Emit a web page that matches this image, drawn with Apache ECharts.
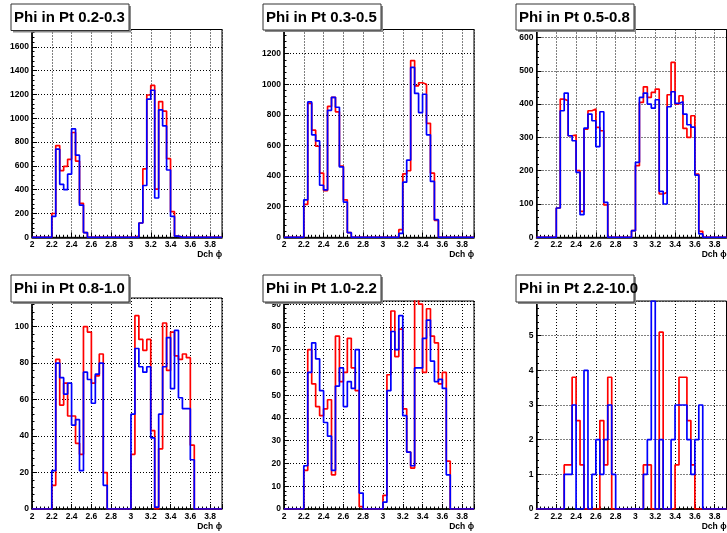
<!DOCTYPE html>
<html>
<head>
<meta charset="utf-8">
<script src="https://cdn.jsdelivr.net/npm/echarts@6/dist/echarts.min.js"></script>
<style>
html, body { margin: 0; padding: 0; background: #fff; }
#chart { width: 727px; height: 533px; }
</style>
</head>
<body>
<div id="chart"></div>
<script>
// Histogram binning of Dch phi: 48 bins of width 0.04 starting at 2.0
const BIN_LO = 2.0;
const BIN_W = 0.04;
const N_BINS = 48;

const panelTitles = [
  'Phi in Pt 0.2-0.3', 'Phi in Pt 0.3-0.5', 'Phi in Pt 0.5-0.8',
  'Phi in Pt 0.8-1.0', 'Phi in Pt 1.0-2.2', 'Phi in Pt 2.2-10.0'
];

// Bin contents, 5 bins per row (2.0-2.2, 2.2-2.4, ... , 3.8-3.92)
const red1 = [
  0, 0, 0, 0, 0,
  200, 770, 560, 595, 655,
  880, 640, 285, 40, 0,
  0, 0, 0, 0, 0,
  0, 0, 0, 0, 0,
  0, 10, 120, 575, 1195,
  1275, 405, 1140, 1060, 660,
  215, 10, 0, 0, 0,
  0, 0, 0, 0, 0,
  0, 0, 0];
const blue1 = [
  0, 0, 0, 0, 0,
  175, 740, 445, 400, 530,
  910, 690, 270, 40, 0,
  0, 0, 0, 0, 0,
  0, 0, 0, 0, 0,
  0, 0, 120, 435, 1160,
  1235, 330, 1070, 935, 565,
  175, 10, 0, 0, 0,
  0, 0, 0, 0, 0,
  0, 0, 0];

const red2 = [
  0, 0, 0, 0, 0,
  215, 875, 700, 595, 420,
  305, 855, 915, 820, 465,
  245, 30, 0, 0, 0,
  0, 0, 0, 0, 0,
  0, 0, 0, 0, 50,
  415, 435, 1155, 990, 1010,
  1000, 745, 420, 110, 0,
  0, 0, 0, 0, 0,
  0, 0, 0];
const blue2 = [
  0, 0, 0, 0, 0,
  245, 885, 670, 630, 340,
  310, 830, 915, 850, 460,
  230, 30, 0, 0, 0,
  0, 0, 0, 0, 0,
  0, 0, 0, 0, 25,
  360, 505, 1110, 940, 815,
  935, 670, 365, 115, 0,
  0, 0, 0, 0, 0,
  0, 0, 0];

const red3 = [
  0, 0, 0, 0, 0,
  88, 415, 410, 305, 307,
  200, 78, 325, 380, 385,
  330, 320, 97, 0, 0,
  0, 0, 0, 0, 20,
  215, 405, 452, 420, 435,
  445, 130, 135, 428, 525,
  400, 425, 327, 300, 365,
  190, 18, 0, 0, 0,
  0, 0, 0];
const blue3 = [
  0, 0, 0, 0, 0,
  88, 380, 433, 305, 290,
  195, 68, 328, 370, 350,
  272, 377, 105, 0, 0,
  0, 0, 0, 0, 20,
  225, 420, 433, 400, 388,
  413, 138, 100, 392, 437,
  402, 407, 370, 338, 331,
  187, 10, 0, 0, 0,
  0, 0, 0];

const red4 = [
  0, 0, 0, 0, 0,
  13, 82, 57, 69, 51,
  51, 36, 30, 100, 97,
  69, 73, 85, 20, 0,
  0, 0, 0, 0, 0,
  30, 106, 93, 87, 93,
  43, 0, 33, 102, 76,
  97, 84, 82, 85, 83,
  35, 0, 0, 0, 0,
  0, 0, 0];
const blue4 = [
  0, 0, 0, 0, 0,
  21, 80, 72, 63, 69,
  46, 49, 21, 75, 71,
  58, 74, 80, 13, 0,
  0, 0, 0, 0, 0,
  52, 88, 78, 75, 78,
  39, 1, 52, 78, 94,
  66, 98, 61, 55, 55,
  27, 0, 0, 0, 0,
  0, 0, 0];

const red5 = [
  0, 0, 0, 0, 0,
  17, 70, 55, 45, 41,
  44, 48, 15, 76, 56,
  60, 75, 62, 52, 1,
  0, 0, 0, 0, 0,
  6, 59, 87, 67, 79,
  44, 25, 18, 93, 90,
  60, 88, 76, 73, 55,
  60, 21, 0, 0, 0,
  0, 0, 0];
const blue5 = [
  0, 0, 0, 0, 0,
  19, 60, 73, 66, 52,
  38, 32, 17, 54, 62,
  45, 56, 53, 70, 7,
  0, 0, 0, 0, 0,
  3, 52, 78, 70, 85,
  41, 25, 19, 62, 62,
  75, 83, 65, 56, 57,
  53, 15, 0, 0, 0,
  0, 0, 0];

const red6 = [
  0, 0, 0, 0, 0,
  0, 0, 1.27, 1.27, 3.8,
  2.55, 1.27, 0, 0, 0,
  0, 2.55, 1.27, 3.8, 0,
  0, 0, 0, 0, 0,
  0, 0, 1.27, 1.27, 0,
  0, 5.1, 0, 0, 0,
  1.27, 3.8, 3.8, 2.55, 1.27,
  0, 0, 0, 0, 0,
  0, 0, 0];
const blue6 = [
  0, 0, 0, 0, 0,
  0, 0, 1, 1, 3,
  0, 0, 4, 0, 1,
  2, 1, 2, 3, 1,
  0, 0, 0, 0, 0,
  0, 0, 1, 2, 6,
  0, 2, 0, 0, 2,
  3, 3, 3, 2, 1,
  2, 3, 0, 0, 0,
  0, 0, 0];

const redSets = [red1, red2, red3, red4, red5, red6];
const blueSets = [blue1, blue2, blue3, blue4, blue5, blue6];

// Vertical axis ranges and label steps
const yMaxes = [1745, 1358, 624, 115.7, 91.4, 6.0];
const yLabelSteps = [200, 200, 100, 20, 10, 1];
const xMin = 2.0, xMax = 3.92, xLabelStep = 0.2;

// Frame rectangles of the six pads (left, top, right, bottom)
const frames = [
  [32, 29.5, 222, 237.3], [284, 29.5, 474, 237.3], [536.5, 29.5, 726.5, 237.3],
  [32, 298, 222, 509], [284, 301, 474, 509], [536.5, 301, 726.5, 509]
];
// Title boxes (x, y, w, h)
const titleBoxes = [
  [11, 4, 118, 26.5], [263, 4, 118, 26], [516, 4, 118, 26],
  [11, 275, 118, 27], [263, 275, 118, 27], [516, 275, 118, 27]
];

const FONT = '"Liberation Sans", Arial, Helvetica, sans-serif';

function stepPoints(vals) {
  const pts = [];
  for (let k = 0; k < vals.length; k++) {
    pts.push([+(BIN_LO + k * BIN_W).toFixed(2), vals[k]]);
  }
  pts.push([+(BIN_LO + vals.length * BIN_W).toFixed(2), vals[vals.length - 1]]);
  return pts;
}

const grids = [], xAxes = [], yAxes = [], series = [], graphics = [];

frames.forEach((f, i) => {
  grids.push({
    left: f[0], top: f[1], width: f[2] - f[0], height: f[3] - f[1],
    show: true, borderColor: '#000', borderWidth: 1, backgroundColor: '#fff',
    containLabel: false, outerBoundsMode: 'none'
  });
  xAxes.push({
    type: 'value', gridIndex: i, min: xMin, max: xMax, interval: xLabelStep,
    name: 'Dch \u03d5', nameLocation: 'end', nameGap: 0, nameMoveOverlap: false,
    nameTextStyle: { fontFamily: FONT, fontWeight: 'bold', fontSize: 8.5, color: '#000',
      align: 'right', verticalAlign: 'top', padding: [13, 0, 0, 0] },
    axisLine: { show: true, onZero: false, lineStyle: { color: '#000', width: 1.5 } },
    axisTick: { show: true, inside: true, length: 5, lineStyle: { color: '#000', width: 1 } },
    minorTick: { show: true, splitNumber: 5, length: 2.5, lineStyle: { color: '#000', width: 1 } },
    splitLine: { show: true, lineStyle: { color: '#000', width: 1, type: [1, 2] } },
    axisLabel: {
      show: true, margin: 3, fontFamily: FONT, fontWeight: 'bold', fontSize: 8.5, color: '#000',
      showMaxLabel: false,
      formatter: v => {
        const r = Math.round(v / xLabelStep) * xLabelStep;
        if (Math.abs(v - r) > 1e-6) return '';
        return String(+r.toFixed(1));
      }
    }
  });
  const step = yLabelSteps[i];
  yAxes.push({
    type: 'value', gridIndex: i, min: 0, max: yMaxes[i], interval: step,
    axisLine: { show: true, onZero: false, lineStyle: { color: '#000', width: 1.5 } },
    axisTick: { show: true, inside: true, length: 5, lineStyle: { color: '#000', width: 1 } },
    minorTick: { show: true, splitNumber: 5, length: 2.5, lineStyle: { color: '#000', width: 1 } },
    splitLine: { show: true, lineStyle: { color: '#000', width: 1, type: [1, 2] } },
    axisLabel: {
      show: true, margin: 3, fontFamily: FONT, fontWeight: 'bold', fontSize: 8.5, color: '#000',
      formatter: v => {
        const q = v / step;
        if (Math.abs(q - Math.round(q)) > 1e-6) return '';
        return String(Math.round(v));
      }
    }
  });
  series.push({
    type: 'line', xAxisIndex: i, yAxisIndex: i, step: 'end', symbol: 'none',
    data: stepPoints(redSets[i]), clip: true, z: 3,
    lineStyle: { color: '#ff0000', width: 1.7 }
  });
  series.push({
    type: 'line', xAxisIndex: i, yAxisIndex: i, step: 'end', symbol: 'none',
    data: stepPoints(blueSets[i]), clip: true, z: 4,
    lineStyle: { color: '#0000ff', width: 1.7 }
  });

  const b = titleBoxes[i];
  graphics.push({
    type: 'rect', z: 100, silent: true,
    shape: { x: b[0] + 2, y: b[1] + 2, width: b[2], height: b[3] },
    style: { fill: '#8a8a8a' }
  });
  graphics.push({
    type: 'rect', z: 101, silent: true,
    shape: { x: b[0], y: b[1], width: b[2], height: b[3] },
    style: { fill: '#fff', stroke: '#333', lineWidth: 1 }
  });
  graphics.push({
    type: 'text', z: 102, silent: true,
    x: b[0] + 3, y: b[1] + b[3] / 2 + 0.5,
    style: { text: panelTitles[i], fill: '#000', font: 'bold 15px ' + FONT, verticalAlign: 'middle' }
  });
});

const chart = echarts.init(document.getElementById('chart'), null, { renderer: 'canvas' });
chart.setOption({
  animation: false,
  backgroundColor: '#fff',
  grid: grids,
  xAxis: xAxes,
  yAxis: yAxes,
  series: series,
  graphic: graphics
});
</script>
</body>
</html>
